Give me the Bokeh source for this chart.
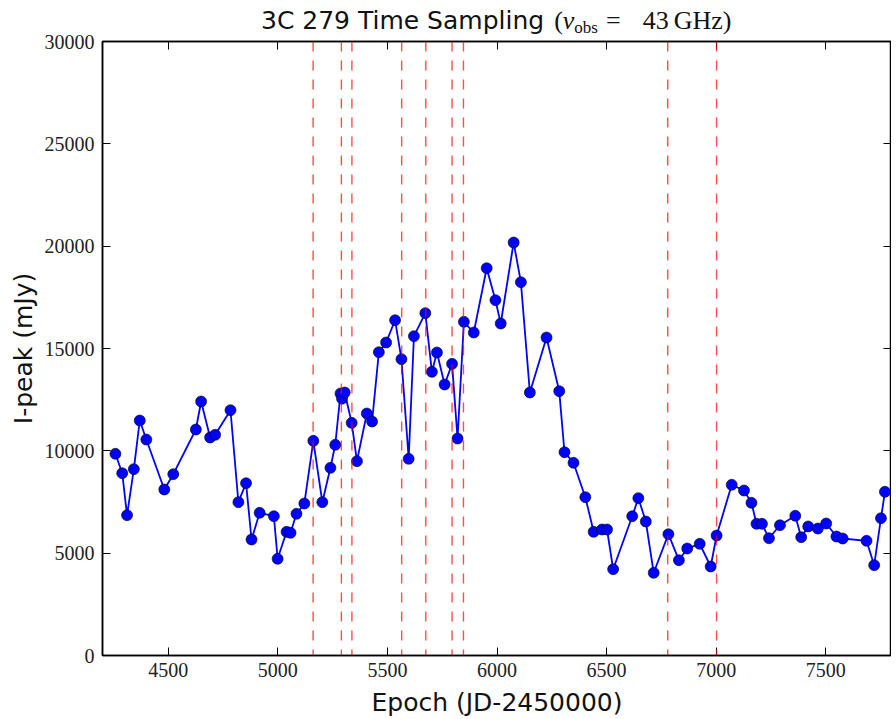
from bokeh.plotting import figure
from bokeh.models import Span, LinearAxis, FixedTicker, Range1d, ColumnDataSource, Div
from bokeh.layouts import column
from bokeh.embed import file_html
from bokeh.resources import INLINE

# ---- data ----
epoch = [4259, 4290, 4312, 4343, 4370, 4400, 4482, 4523, 4626, 4650,
         4691, 4714, 4784, 4820, 4855, 4880, 4917, 4982, 4999, 5040,
         5058, 5085, 5121, 5162, 5203, 5240, 5262, 5286, 5293, 5305,
         5337, 5361, 5406, 5430, 5461, 5494, 5535, 5564, 5597, 5621,
         5673, 5703, 5726, 5761, 5795, 5820, 5849, 5894, 5953, 5993,
         6017, 6076, 6109, 6150, 6226, 6284, 6308, 6349, 6403, 6441,
         6479, 6502, 6530, 6617, 6645, 6679, 6715, 6782, 6830, 6868,
         6925, 6975, 7002, 7071, 7127, 7161, 7184, 7209, 7241, 7291,
         7361, 7388, 7420, 7464, 7502, 7549, 7577, 7686, 7721, 7752,
         7770]
ipeak = [9855, 8907, 6855, 9103, 11482, 10553, 8111, 8859, 11042, 12410,
         10651, 10783, 11985, 7490, 8418, 5668, 6972, 6806, 4725, 6044,
         5995, 6923, 7427, 10490, 7490, 9171, 10295, 12800, 12550, 12850,
         11369, 9494, 11824, 11433, 14820, 15293, 16383, 14477, 9611, 15601,
         16725, 13861, 14804, 13241, 14251, 10602, 16304, 15781, 18923, 17359,
         16221, 20179, 18239, 12850, 15537, 12914, 9933, 9415, 7735, 6044,
         6156, 6156, 4217, 6806, 7686, 6547, 4041, 5927, 4656, 5228,
         5458, 4348, 5863, 8340, 8062, 7461, 6435, 6435, 5731, 6366,
         6826, 5780, 6303, 6205, 6449, 5814, 5717, 5604, 4412, 6708,
         7998]
sample_epochs = [5161, 5290, 5338, 5565, 5675, 5795, 5847, 6779, 7002]
x_ticks = [4500, 5000, 5500, 6000, 6500, 7000, 7500]
y_ticks = [0, 5000, 10000, 15000, 20000, 25000, 30000]
x_lim = (4200, 7800)
y_lim = (0, 30000)

FW, FH = 789, 614
LEFT = 102
TITLE_H = 27
SANS = "DejaVu Sans"
SERIF = "Liberation Serif"

p = figure(frame_width=FW, frame_height=FH,
           x_range=Range1d(*x_lim), y_range=Range1d(*y_lim),
           output_backend="svg", toolbar_location=None,
           min_border_left=LEFT, min_border_right=0,
           min_border_top=14, min_border_bottom=0, margin=(0, 0, 0, 0))
p.xgrid.visible = False
p.ygrid.visible = False
p.outline_line_color = "black"
p.outline_line_width = 1.5
p.background_fill_color = "white"
p.border_fill_color = None

def style_axis(ax, ticks, show_labels=True):
    ax.ticker = FixedTicker(ticks=ticks)
    ax.major_tick_in = 8
    ax.major_tick_out = 0
    ax.major_tick_line_color = "black"
    ax.major_tick_line_width = 1
    ax.minor_tick_line_color = None
    ax.axis_line_color = "black"
    ax.axis_line_width = 1.5
    if show_labels:
        ax.major_label_text_font = SERIF
        ax.major_label_text_font_size = "20px"
        ax.major_label_text_color = "#222222"
        ax.major_label_text_line_height = 1.0
    else:
        ax.major_label_text_font_size = "1px"
        ax.major_label_text_color = None
        ax.major_label_standoff = 0

style_axis(p.xaxis[0], x_ticks)
style_axis(p.yaxis[0], y_ticks)
p.xaxis[0].major_label_standoff = 7
p.yaxis[0].major_label_standoff = 8

p.xaxis[0].axis_label = "Epoch (JD-2450000)"
p.yaxis[0].axis_label = "I-peak (mJy)"
for ax in (p.xaxis[0], p.yaxis[0]):
    ax.axis_label_text_font = SANS
    ax.axis_label_text_font_size = "25px"
    ax.axis_label_text_font_style = "normal"
    ax.axis_label_text_color = "#111111"
    ax.axis_label_text_line_height = 1.0
p.xaxis[0].axis_label_standoff = 8
p.yaxis[0].axis_label_standoff = 4

top_ax = LinearAxis()
style_axis(top_ax, x_ticks, show_labels=False)
p.add_layout(top_ax, "above")
right_ax = LinearAxis()
style_axis(right_ax, y_ticks, show_labels=False)
p.add_layout(right_ax, "right")

src = ColumnDataSource(dict(epoch=epoch, ipeak=ipeak))
p.line("epoch", "ipeak", source=src, line_color="blue", line_width=1.8)
p.scatter("epoch", "ipeak", source=src, size=11, fill_color="blue",
          line_color="black", line_width=0.6)

for e in sample_epochs:
    p.add_layout(Span(location=e, dimension="height", line_color="red",
                      line_alpha=0.7, line_width=1.4, line_dash="10 9"))

# ---- title: sans text followed by a math-style serif part ----
title_html = (
    '<div style="padding-left:261px;padding-top:8px;white-space:nowrap;'
    'line-height:1;color:#111111;">'
    '<span style="font-family:\'DejaVu Sans\';font-size:25px;">3C 279 Time Sampling</span>'
    '<span style="font-family:\'Liberation Serif\';font-size:26px;margin-left:10px;">'
    '(<i>\u03bd</i><sub style="font-size:17px;vertical-align:-4px;">obs</sub>'
    '<span style="margin-left:8px;">=</span>'
    '<span style="margin-left:22px;">43</span>'
    '<span style="margin-left:5px;">GHz)</span>'
    '</span></div>'
)
title_div = Div(text=title_html, width=LEFT + FW, height=TITLE_H,
                margin=(0, 0, 0, 0), styles={"overflow": "visible"})

layout = column(title_div, p, spacing=0)
open("out.html", "w").write(file_html(layout, INLINE))
